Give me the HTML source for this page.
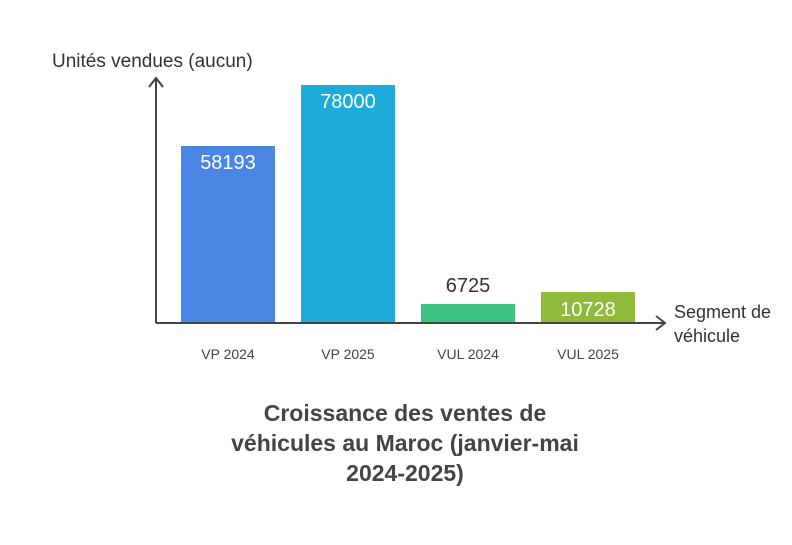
<!DOCTYPE html>
<html><head><meta charset="utf-8"><style>
body{margin:0;width:792px;height:540px;background:#fff;overflow:hidden;font-family:"Liberation Sans",sans-serif}
</style></head><body>
<svg width="792" height="540" xmlns="http://www.w3.org/2000/svg" font-family="Liberation Sans, sans-serif">
<rect x="181" y="146" width="94" height="177" fill="#4c86e4"/>
<rect x="301" y="85" width="94" height="238" fill="#1fabd9"/>
<rect x="421" y="304" width="94" height="19" fill="#3dc482"/>
<rect x="541" y="292" width="94" height="31" fill="#8fba3a"/>
<path d="M156 323V78M149 87L156 78L163 87" stroke="#444" stroke-width="2" fill="none"/>
<path d="M156 323H665M656 316L665 323L656 330" stroke="#444" stroke-width="2" fill="none"/>
<g font-size="20" fill="#fff" text-anchor="middle">
<text x="228" y="169">58193</text>
<text x="348" y="108">78000</text>
<text x="588" y="316">10728</text>
</g>
<text x="468" y="292" font-size="20" fill="#333" text-anchor="middle">6725</text>
<g font-size="14" fill="#444" text-anchor="middle">
<text x="228" y="359">VP 2024</text>
<text x="348" y="359">VP 2025</text>
<text x="468" y="359">VUL 2024</text>
<text x="588" y="359">VUL 2025</text>
</g>
<text x="52" y="67" font-size="19" fill="#333">Unités vendues (aucun)</text>
<text x="674" y="318" font-size="18" fill="#333">Segment de</text>
<text x="674" y="342" font-size="18" fill="#333">véhicule</text>
<g font-size="23" font-weight="bold" fill="#444" text-anchor="middle">
<text x="405" y="421">Croissance des ventes de</text>
<text x="405" y="451">véhicules au Maroc (janvier-mai</text>
<text x="405" y="481">2024-2025)</text>
</g>
</svg>
</body></html>
